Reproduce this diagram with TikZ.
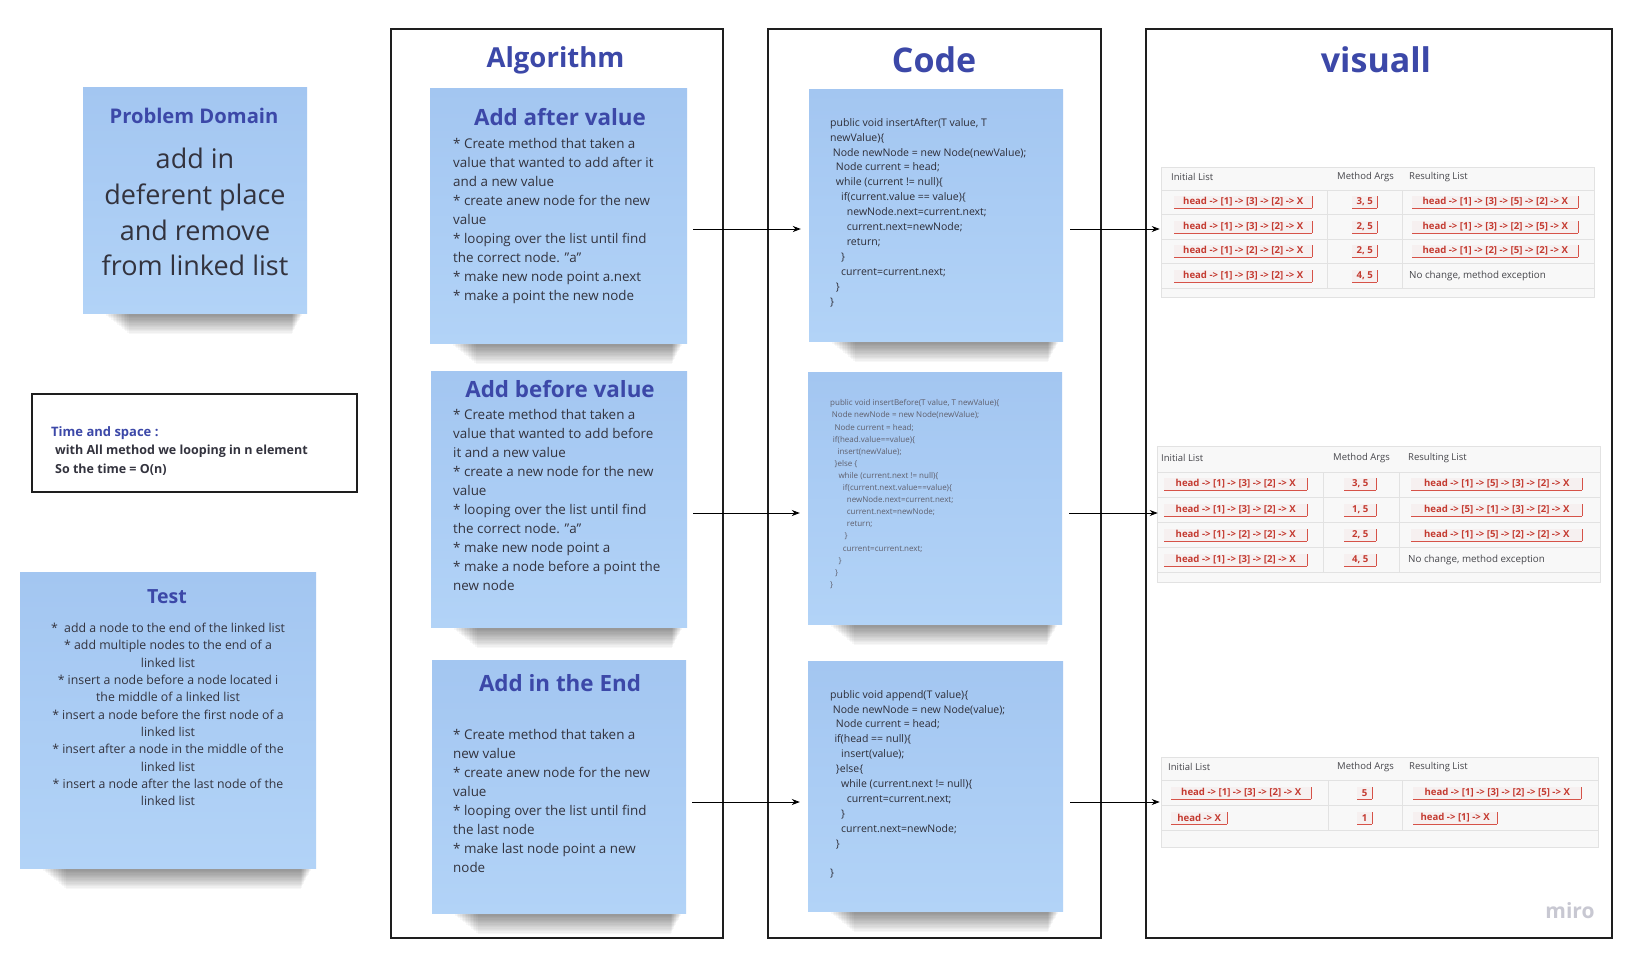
\documentclass[tikz,border=0pt]{standalone}
\usepackage{fontspec}
\setmainfont{Open Sans}
\usetikzlibrary{arrows.meta}
\definecolor{ttlc}{RGB}{60,72,168}
\definecolor{bodyc}{RGB}{51,51,62}
\definecolor{codec}{RGB}{45,45,55}
\definecolor{codecb}{RGB}{95,95,108}
\definecolor{stkT}{RGB}{163,198,241}
\definecolor{stkB}{RGB}{178,211,247}
\definecolor{tblbg}{RGB}{248,248,248}
\definecolor{tblln}{RGB}{226,226,226}
\definecolor{chipbg}{RGB}{246,240,240}
\definecolor{chiptxt}{RGB}{196,58,48}
\definecolor{chipedge}{RGB}{214,82,72}
\definecolor{hdrc}{RGB}{70,70,75}
\definecolor{frm}{RGB}{30,30,30}
\definecolor{miroc}{RGB}{200,200,210}
\newcommand\ind[1]{\hspace*{#1pt}}
% soft shadow under a sticky note: left x, right x, bottom y
\newcommand\stkshadow[3]{\foreach \k in {1,...,16}{\fill[black, opacity=0.032] (#1+20+\k*1.6,#3-2) rectangle (#2-4-\k*0.7,#3+\k*1.3);}}
\begin{document}
\begin{tikzpicture}[x=1pt,y=-1pt,
  sticky/.style={inner sep=0pt, top color=stkT, bottom color=stkB},
  colframe/.style={draw=frm, line width=1.4pt, inner sep=0pt},
  ftitle/.style={text=ttlc, font=\bfseries\fontsize{34}{40}\selectfont, inner sep=0pt},
  ntitle/.style={text=ttlc, font=\bfseries\fontsize{22.4}{26}\selectfont, inner sep=0pt},
  body/.style={anchor=north west, align=left, inner sep=0pt, text=bodyc, font=\fontsize{13.4}{19}\selectfont},
  codetxt/.style={anchor=north west, align=left, inner sep=0pt, text=codec, font=\fontsize{10.5}{14.9}\selectfont},
  arr/.style={-{Stealth[length=8pt,width=6pt]}, line width=0.8pt, draw=black},
  tbl/.style={fill=tblbg, draw=tblln, line width=0.6pt, inner sep=0pt},
  tline/.style={draw=tblln, line width=0.8pt},
  hdr/.style={anchor=west, inner sep=0pt, text=hdrc, font=\fontsize{9.5}{11}\selectfont},
  chipline/.style={draw=chipedge, line width=0.8pt},
  chip/.style={anchor=west, fill=chipbg, inner xsep=2pt, inner ysep=0pt, minimum height=12pt,
    text=chiptxt, font=\bfseries\fontsize{9.6}{11}\selectfont,
    append after command={(\tikzlastnode.south west) edge[chipline] (\tikzlastnode.south east)
      (\tikzlastnode.south east) edge[chipline] (\tikzlastnode.north east)}},
  plain/.style={anchor=west, inner sep=0pt, text=hdrc, font=\fontsize{9.8}{11}\selectfont},
]
\path[fill=white] (0,0) rectangle (1634,956);
\useasboundingbox (0,0) rectangle (1634,956);

% frames
\node[colframe, minimum width=332pt, minimum height=909pt] (falg) at (557,483.5) {};
\node[colframe, minimum width=333pt, minimum height=909pt] (fcode) at (934.5,483.5) {};
\node[colframe, minimum width=466pt, minimum height=909pt] (fvis) at (1379,483.5) {};
\node[ftitle, font=\bfseries\fontsize{27.5}{32}\selectfont] (talg) at (555.5,60) {Algorithm};
\node[ftitle] (tcode) at (934,60) {Code};
\node[ftitle] (tvis) at (1376,60) {visuall};

% left column
\stkshadow{83}{307}{313}
\node[sticky, minimum width=224pt, minimum height=226pt] (prob) at (195,200) {};
\node[ntitle, font=\bfseries\fontsize{20.2}{24}\selectfont] (probt) at (194,116) {Problem Domain};
\node[anchor=north, align=center, inner sep=0pt, text=bodyc, font=\fontsize{27}{35.7}\selectfont] (probb) at (195,148) {add in\\deferent place\\and remove\\from linked list};

\node[draw=frm, line width=1.3pt, minimum width=325pt, minimum height=98pt, inner sep=0pt] (tsbox) at (194.5,443) {};
\node[anchor=west, inner sep=0pt, text=ttlc, font=\bfseries\fontsize{13}{16}\selectfont] (tst) at (51,433) {Time and space :};
\node[anchor=north west, align=left, inner sep=0pt, text=bodyc, font=\bfseries\fontsize{12.5}{19}\selectfont] (tsb) at (55,445) {with All method we looping in n element\\So the time = O(n)};

\stkshadow{20}{316}{868}
\node[sticky, minimum width=296pt, minimum height=296pt] (test) at (168,720) {};
\node[ntitle, font=\bfseries\fontsize{19.5}{24}\selectfont] (testt) at (167,597) {Test};
\node[anchor=north, align=center, inner sep=0pt, text=bodyc, font=\fontsize{12.3}{17.3}\selectfont] (testb) at (168,623) {*\ \ add a node to the end of the linked list\\* add multiple nodes to the end of a\\linked list\\* insert a node before a node located i\\the middle of a linked list\\* insert a node before the first node of a\\linked list\\* insert after a node in the middle of the\\linked list\\* insert a node after the last node of the\\linked list};

% algorithm notes
\stkshadow{430}{687}{343}
\node[sticky, minimum width=257pt, minimum height=255pt] (alg1) at (558.5,215.5) {};
\node[ntitle] (alg1t) at (560,117) {Add after value};
\node[body] (alg1b) at (453,138) {* Create method that taken a\\value that wanted to add after it\\and a new value\\* create anew node for the new\\value\\* looping over the list until find\\the correct node. "a"\\* make new node point a.next\\* make a point the new node};

\stkshadow{431}{687}{627}
\node[sticky, minimum width=256pt, minimum height=256pt] (alg2) at (559,499) {};
\node[ntitle] (alg2t) at (560,389) {Add before value};
\node[body] (alg2b) at (453,409) {* Create method that taken a\\value that wanted to add before\\it and a new value\\* create a new node for the new\\value\\* looping over the list until find\\the correct node. "a"\\* make new node point a\\* make a node before a point the\\new node};

\stkshadow{432}{686}{913}
\node[sticky, minimum width=254pt, minimum height=253pt] (alg3) at (559,786.5) {};
\node[ntitle] (alg3t) at (560,683) {Add in the End};
\node[body] (alg3b) at (453,729) {* Create method that taken a\\new value\\* create anew node for the new\\value\\* looping over the list until find\\the last node\\* make last node point a new\\node};

% code notes
\stkshadow{809}{1063}{341}
\node[sticky, minimum width=254pt, minimum height=252pt] (code1) at (936,215) {};
\node[codetxt] (code1b) at (830,118) {public void insertAfter(T value, T\\newValue)\{\\\ind{2.7}Node newNode = new Node(newValue);\\\ind{5.7}Node current = head;\\\ind{5.7}while (current != null)\{\\\ind{11}if(current.value == value)\{\\\ind{16.7}newNode.next=current.next;\\\ind{16.7}current.next=newNode;\\\ind{16.7}return;\\\ind{11}\}\\\ind{11}current=current.next;\\\ind{5.7}\}\\\}};

\stkshadow{808}{1062}{624}
\node[sticky, minimum width=254pt, minimum height=252pt] (code2) at (935,498) {};
\node[codetxt, text=codecb, font=\fontsize{8}{12.1}\selectfont] (code2b) at (830,399.5) {public void insertBefore(T value, T newValue)\{\\\ind{1.7}Node newNode = new Node(newValue);\\\ind{4.3}Node current = head;\\\ind{2.7}if(head.value==value)\{\\\ind{7.3}insert(newValue);\\\ind{4.3}\}else \{\\\ind{8.3}while (current.next != null)\{\\\ind{12.7}if(current.next.value==value)\{\\\ind{16.7}newNode.next=current.next;\\\ind{16.7}current.next=newNode;\\\ind{16.7}return;\\\ind{14.3}\}\\\ind{12.7}current=current.next;\\\ind{8.3}\}\\\ind{5}\}\\\}};

\stkshadow{808}{1063}{911}
\node[sticky, minimum width=255pt, minimum height=250pt] (code3) at (935.5,786) {};
\node[codetxt] (code3b) at (830,690) {public void append(T value)\{\\\ind{2.7}Node newNode = new Node(value);\\\ind{5.7}Node current = head;\\\ind{4.3}if(head == null)\{\\\ind{11}insert(value);\\\ind{5.7}\}else\{\\\ind{11}while (current.next != null)\{\\\ind{16.7}current=current.next;\\\ind{11}\}\\\ind{11}current.next=newNode;\\\ind{5.7}\}\\\mbox{}\\\}};

% tables
\node[tbl, minimum width=433pt, minimum height=130pt] (tab1) at (1377.5,232) {};
\foreach \yy in {190,214,239,263,288} \draw[tline] (1161,\yy) -- (1594,\yy);
\draw[tline] (1327,190) -- (1327,288) (1402,190) -- (1402,288);
\node[hdr] (t1h1) at (1171,177) {Initial List};
\node[hdr] (t1h2) at (1337,177) {Method Args};
\node[hdr] (t1h3) at (1409,177) {Resulting List};
\node[chip, minimum width=138pt] (t1a1) at (1174,202) {head -> [1] -> [3] -> [2] -> X};
\node[chip, minimum width=138pt] (t1a2) at (1174,227) {head -> [1] -> [3] -> [2] -> X};
\node[chip, minimum width=138pt] (t1a3) at (1174,251) {head -> [1] -> [2] -> [2] -> X};
\node[chip, minimum width=138pt] (t1a4) at (1174,276) {head -> [1] -> [3] -> [2] -> X};
\node[chip, minimum width=25pt] (t1b1) at (1352,202) {3, 5};
\node[chip, minimum width=25pt] (t1b2) at (1352,227) {2, 5};
\node[chip, minimum width=25pt] (t1b3) at (1352,251) {2, 5};
\node[chip, minimum width=25pt] (t1b4) at (1352,276) {4, 5};
\node[chip, minimum width=166pt] (t1c1) at (1412,202) {head -> [1] -> [3] -> [5] -> [2] -> X};
\node[chip, minimum width=166pt] (t1c2) at (1412,227) {head -> [1] -> [3] -> [2] -> [5] -> X};
\node[chip, minimum width=166pt] (t1c3) at (1412,251) {head -> [1] -> [2] -> [5] -> [2] -> X};
\node[plain] (t1c4) at (1409,276) {No change, method exception};

\node[tbl, minimum width=443pt, minimum height=136pt] (tab2) at (1378.5,514) {};
\foreach \yy in {472,497,522,547,572} \draw[tline] (1157,\yy) -- (1600,\yy);
\draw[tline] (1323,472) -- (1323,572) (1399,472) -- (1399,572);
\node[hdr] (t2h1) at (1161,458) {Initial List};
\node[hdr] (t2h2) at (1333,458) {Method Args};
\node[hdr] (t2h3) at (1408,458) {Resulting List};
\node[chip, minimum width=143pt] (t2a1) at (1164,484) {head -> [1] -> [3] -> [2] -> X};
\node[chip, minimum width=143pt] (t2a2) at (1164,510) {head -> [1] -> [3] -> [2] -> X};
\node[chip, minimum width=143pt] (t2a3) at (1164,535) {head -> [1] -> [2] -> [2] -> X};
\node[chip, minimum width=143pt] (t2a4) at (1164,560) {head -> [1] -> [3] -> [2] -> X};
\node[chip, minimum width=32pt] (t2b1) at (1344,484) {3, 5};
\node[chip, minimum width=32pt] (t2b2) at (1344,510) {1, 5};
\node[chip, minimum width=32pt] (t2b3) at (1344,535) {2, 5};
\node[chip, minimum width=32pt] (t2b4) at (1344,560) {4, 5};
\node[chip, minimum width=171pt] (t2c1) at (1411,484) {head -> [1] -> [5] -> [3] -> [2] -> X};
\node[chip, minimum width=171pt] (t2c2) at (1411,510) {head -> [5] -> [1] -> [3] -> [2] -> X};
\node[chip, minimum width=171pt] (t2c3) at (1411,535) {head -> [1] -> [5] -> [2] -> [2] -> X};
\node[plain] (t2c4) at (1408,560) {No change, method exception};

\node[tbl, minimum width=437pt, minimum height=90pt] (tab3) at (1379.5,802) {};
\foreach \yy in {780,805,830} \draw[tline] (1161,\yy) -- (1598,\yy);
\draw[tline] (1328,780) -- (1328,830) (1402,780) -- (1402,830);
\node[hdr] (t3h1) at (1168,767) {Initial List};
\node[hdr] (t3h2) at (1337,767) {Method Args};
\node[hdr] (t3h3) at (1409,767) {Resulting List};
\node[chip, minimum width=140pt] (t3a1) at (1171,793) {head -> [1] -> [3] -> [2] -> X};
\node[chip, minimum width=56pt] (t3a2) at (1171,818) {head -> X};
\node[chip, minimum width=15pt] (t3b1) at (1357,793) {5};
\node[chip, minimum width=15pt] (t3b2) at (1357,818) {1};
\node[chip, minimum width=168pt] (t3c1) at (1413,793) {head -> [1] -> [3] -> [2] -> [5] -> X};
\node[chip, minimum width=84pt] (t3c2) at (1413,818) {head -> [1] -> X};

% arrows
\draw[arr] ([xshift=6pt,yshift=-13.5pt]alg1.east) -- ([xshift=-8pt,yshift=-14pt]code1.west);
\draw[arr] ([xshift=7pt,yshift=-14pt]code1.east) -- ([xshift=-1pt,yshift=3pt]tab1.west);
\draw[arr] ([xshift=6pt,yshift=-14pt]alg2.east) -- ([xshift=-8pt,yshift=-15pt]code2.west);
\draw[arr] ([xshift=7pt,yshift=-15pt]code2.east) -- ([xshift=1pt,yshift=1pt]tab2.west);
\draw[arr] ([xshift=6pt,yshift=-15.5pt]alg3.east) -- ([xshift=-8pt,yshift=-16pt]code3.west);
\draw[arr] ([xshift=7pt,yshift=-16pt]code3.east) -- ([xshift=-1pt]tab3.west);

\node[inner sep=0pt, text=miroc, font=\bfseries\fontsize{21}{24}\selectfont] (miro) at (1570,911) {miro};
\end{tikzpicture}
\end{document}
